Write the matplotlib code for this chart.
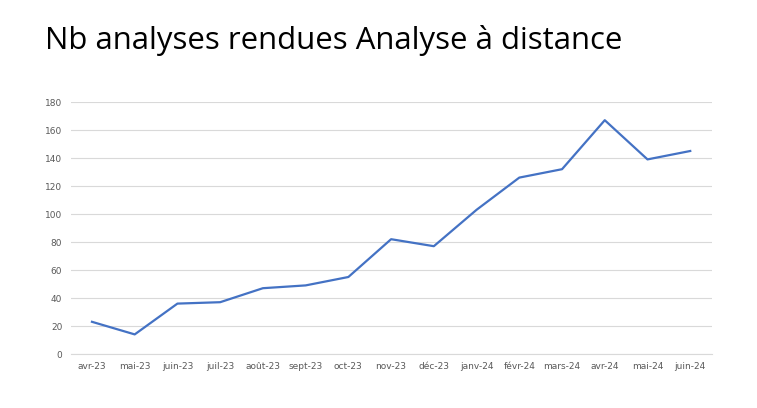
import matplotlib
matplotlib.use("Agg")
import matplotlib.pyplot as plt

months = ["avr-23","mai-23","juin-23","juil-23","août-23","sept-23","oct-23","nov-23","déc-23","janv-24","févr-24","mars-24","avr-24","mai-24","juin-24"]
values = [23,14,36,37,47,49,55,82,77,103,126,132,167,139,145]

fig = plt.figure(figsize=(7.57,4.08), dpi=100)
ax = fig.add_axes([70.6/757, 1-354/408, 641/757, 252/408])
x = list(range(len(months)))
ax.plot(x, values, color="#4472C4", lw=1.6)
ax.set_xlim(-0.5, len(months)-0.5)
ax.set_ylim(0, 180)
ax.set_yticks(range(0,181,20))
ax.set_xticks(x)
ax.set_xticklabels(months)
ax.tick_params(axis='both', length=0, labelsize=6.5, colors="#595959", pad=6)
ax.grid(axis='y', color="#D9D9D9", lw=0.8)
ax.set_axisbelow(True)
for s in ["top","right","left"]:
    ax.spines[s].set_visible(False)
ax.spines["bottom"].set_color("#D9D9D9")
fig.text(45/757, 1-40/408, "Nb analyses rendues Analyse à distance", fontsize=22.4, va="center", ha="left", color="#000000", family="Open Sans")
fig.savefig("out.png", dpi=100)
